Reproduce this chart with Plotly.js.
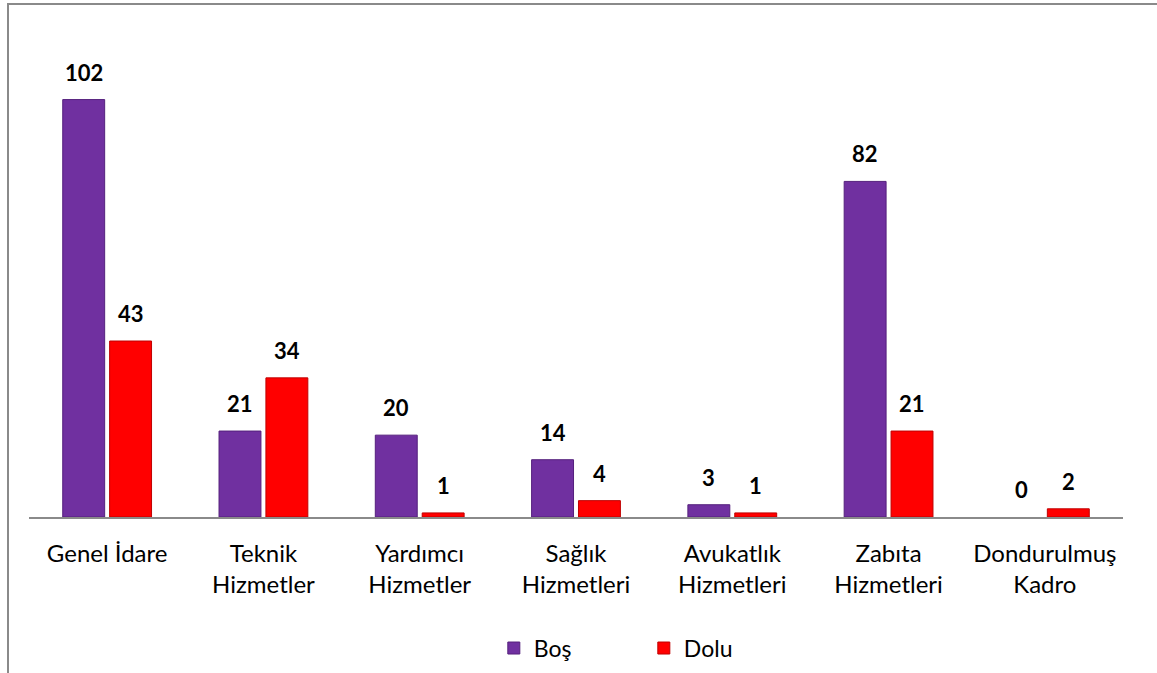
<!DOCTYPE html>
<html>
<head>
<meta charset="utf-8">
<script src="https://cdn.plot.ly/plotly-3.0.1.min.js"></script>
<style>
  body { margin: 0; background: #fff; }
  #wrap { position: relative; width: 1157px; height: 673px; overflow: hidden; }
  #chart { position: absolute; left: 0; top: 0; width: 1157px; height: 673px; }
  #frame { position: absolute; left: 7px; top: 3px; width: 2000px; height: 2000px;
           border-top: 2px solid #8a8a8a; border-left: 2px solid #8a8a8a; pointer-events: none; }
</style>
</head>
<body>
<div id="wrap">
  <div id="chart"></div>
  <div id="frame"></div>
</div>
<script>
const categories = ["Genel İdare", "Teknik<br>Hizmetler", "Yardımcı<br>Hizmetler", "Sağlık<br>Hizmetleri", "Avukatlık<br>Hizmetleri", "Zabıta<br>Hizmetleri", "Dondurulmuş<br>Kadro"];
const bosValues = [102, 21, 20, 14, 3, 82, 0];
const doluValues = [43, 34, 1, 4, 1, 21, 2];
const seriesNames = ["Boş", "Dolu"];

const FONT = "Lato, 'Open Sans', sans-serif";
const BAR_OFFSET = 23.5; // px half-slot of a grouped bar

const traces = [
  {
    type: "bar", name: seriesNames[0], x: categories, y: bosValues,
    marker: { color: "#7030A0", line: { color: "#55207d", width: bosValues.map(v => v > 0 ? 1 : 0) } },
    hoverinfo: "x+y"
  },
  {
    type: "bar", name: seriesNames[1], x: categories, y: doluValues,
    marker: { color: "#FF0000", line: { color: "#c00000", width: doluValues.map(v => v > 0 ? 1 : 0) } },
    hoverinfo: "x+y"
  }
];

const labelFont = { family: FONT, size: 22, color: "#000", weight: "bold" };
const annotations = [];
categories.forEach((c, i) => {
  annotations.push({ x: c, y: bosValues[i], xref: "x", yref: "y", text: String(bosValues[i]),
    showarrow: false, yanchor: "bottom", xanchor: "center", xshift: -BAR_OFFSET, yshift: 12, font: labelFont });
  annotations.push({ x: c, y: doluValues[i], xref: "x", yref: "y", text: String(doluValues[i]),
    showarrow: false, yanchor: "bottom", xanchor: "center", xshift: BAR_OFFSET, yshift: 12, font: labelFont });
});

const layout = {
  width: 1157, height: 673,
  margin: { l: 29, r: 34, t: 30, b: 156, autoexpand: false },
  paper_bgcolor: "rgba(0,0,0,0)", plot_bgcolor: "rgba(0,0,0,0)",
  barmode: "group", bargap: 0.4, bargroupgap: 0.106,
  font: { family: FONT, size: 24, color: "#000" },
  xaxis: {
    showline: true, linecolor: "#8a8a8a", linewidth: 2,
    ticks: "", tickfont: { family: FONT, size: 24, color: "#000" },
    ticklabelstandoff: 14, automargin: false,
    fixedrange: true
  },
  yaxis: { range: [0, 119], visible: false, showgrid: false, zeroline: false, fixedrange: true, automargin: false },
  annotations: annotations,
  showlegend: true,
  legend: {
    orientation: "h", x: 0.562, xanchor: "center", y: -0.225, yanchor: "top",
    font: { family: FONT, size: 23, color: "#000" },
    entrywidth: 105, itemwidth: 30
  }
};

Plotly.newPlot("chart", traces, layout, { displayModeBar: false, staticPlot: true });
</script>
</body>
</html>
